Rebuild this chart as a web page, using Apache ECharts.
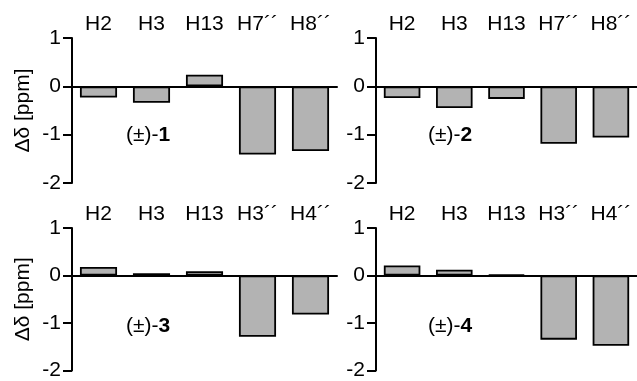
<!DOCTYPE html>
<html>
<head>
<meta charset="utf-8">
<script src="https://cdn.jsdelivr.net/npm/echarts@6/dist/echarts.min.js"></script>
<style>html,body{margin:0;padding:0;background:#fff}#c{width:637px;height:381px}</style>
</head>
<body>
<div id="c"></div>
<script>
// ---- data ----
var catsTop = ['H2', 'H3', 'H13', 'H7\u00B4\u00B4', 'H8\u00B4\u00B4'];
var catsBottom = ['H2', 'H3', 'H13', 'H3\u00B4\u00B4', 'H4\u00B4\u00B4'];
var vals1 = [-0.23, -0.34, 0.24, -1.41, -1.34];
var vals2 = [-0.24, -0.45, -0.26, -1.19, -1.06];
var vals3 = [0.18, 0.05, 0.09, -1.29, -0.82];
var vals4 = [0.21, 0.12, 0.02, -1.35, -1.48];
var compounds = ['1', '2', '3', '4'];
var yName = '\u0394\u03B4 [ppm]';
var yMin = -2, yMax = 1, yStep = 1;

var FONT = '"Liberation Sans", Arial, sans-serif';
var FS = 21;
var panels = [
  {left: 72, top: 38, height: 145, width: 265, cats: catsTop, vals: vals1, name: yName, lx: 126, ly: 124},
  {left: 376, top: 38, height: 145, width: 265, cats: catsTop, vals: vals2, name: '', lx: 428, ly: 124},
  {left: 72, top: 228, height: 146, width: 265, cats: catsBottom, vals: vals3, name: yName, lx: 126, ly: 315},
  {left: 376, top: 228, height: 146, width: 265, cats: catsBottom, vals: vals4, name: '', lx: 428, ly: 315}
];

var grid = [], xAxis = [], yAxis = [], series = [], title = [];
panels.forEach(function (p, i) {
  grid.push({left: p.left, top: p.top, width: p.width, height: p.height, containLabel: false});
  xAxis.push({
    type: 'category', gridIndex: i, data: p.cats,
    axisLine: {show: true, onZero: true, lineStyle: {color: '#000', width: 2}},
    axisTick: {show: false}, axisLabel: {show: false}, splitLine: {show: false}
  });
  xAxis.push({
    type: 'category', gridIndex: i, data: p.cats, position: 'top',
    axisLine: {show: false, onZero: false}, axisTick: {show: false}, splitLine: {show: false},
    axisLabel: {color: '#000', fontSize: FS, fontFamily: FONT, margin: 3, interval: 0}
  });
  yAxis.push({
    type: 'value', gridIndex: i, min: yMin, max: yMax, interval: yStep,
    name: p.name, nameLocation: 'middle', nameRotate: 90, nameGap: 38,
    nameTextStyle: {color: '#000', fontSize: FS, fontFamily: FONT},
    axisLine: {show: true, lineStyle: {color: '#000', width: 2}},
    axisTick: {show: true, length: 9, lineStyle: {color: '#000', width: 2}},
    axisLabel: {color: '#000', fontSize: FS, fontFamily: FONT, margin: 11},
    splitLine: {show: false}
  });
  series.push({
    type: 'bar', xAxisIndex: i * 2, yAxisIndex: i, data: p.vals,
    barWidth: '70%',
    itemStyle: {color: '#b3b3b3', borderColor: '#000', borderWidth: 1.8},
    silent: true, animation: false
  });
  title.push({
    text: '(\u00B1)-{b|' + compounds[i] + '}', left: p.lx, top: p.ly, padding: 0,
    textStyle: {color: '#000', fontSize: FS, fontWeight: 'normal', fontFamily: FONT, lineHeight: 23,
      rich: {b: {fontWeight: 'bold', fontSize: FS, fontFamily: FONT, color: '#000', lineHeight: 23}}}
  });
});

var chart = echarts.init(document.getElementById('c'), null, {renderer: 'canvas'});
chart.setOption({
  animation: false,
  backgroundColor: '#fff',
  title: title, grid: grid, xAxis: xAxis, yAxis: yAxis, series: series
});
</script>
</body>
</html>
